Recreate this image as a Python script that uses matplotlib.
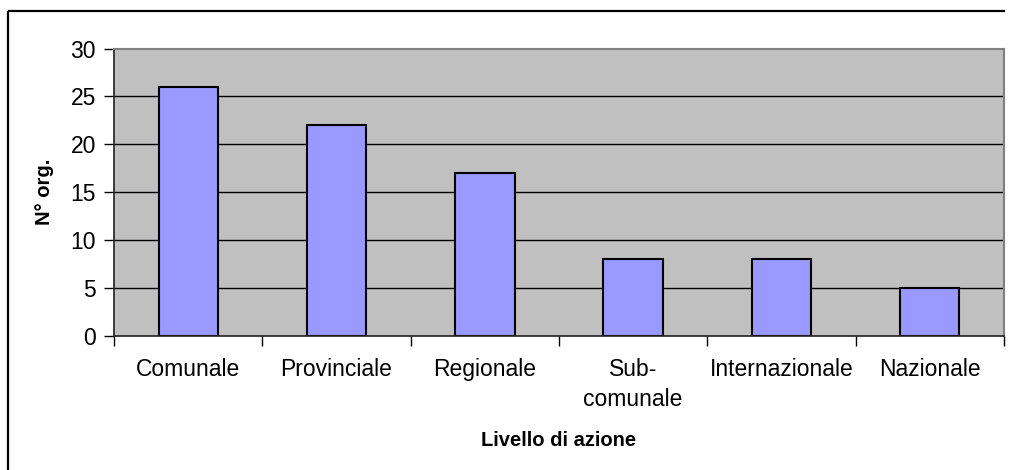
import matplotlib
matplotlib.use("Agg")
import matplotlib.pyplot as plt
from matplotlib.lines import Line2D
import numpy as np

categories = ["Comunale", "Provinciale", "Regionale", "Sub-\ncomunale", "Internazionale", "Nazionale"]
values = [26, 22, 17, 8, 8, 5]
y_ticks = [0, 5, 10, 15, 20, 25, 30]
x_label = "Livello di azione"
y_label = "N° org."

plt.rcParams['font.family'] = ['Liberation Sans', 'DejaVu Sans']

W, H = 1009, 470
fig = plt.figure(figsize=(W / 100, H / 100), dpi=100)

# outer frame (left and top edges; others lie outside the image)
fx, fy = 7.5 / W, (H - 10.5) / H
fig.add_artist(Line2D([fx, fx], [0, fy], transform=fig.transFigure, color='black',
                      linewidth=1.6, solid_capstyle='butt'))
fig.add_artist(Line2D([fx, (W - 4) / W], [fy, fy], transform=fig.transFigure, color='black',
                      linewidth=1.6, solid_capstyle='butt'))

left, right, top, bottom = 114, 1004, 48.5, 336
ax = fig.add_axes([left / W, (H - bottom) / H, (right - left) / W, (bottom - top) / H])
ax.set_facecolor('#C0C0C0')

x = np.arange(len(categories))
ax.set_xlim(-0.5, len(categories) - 0.5)
ax.set_ylim(0, 30)

for yv in y_ticks[1:-1]:
    ax.axhline(yv, color='black', linewidth=1.0, zorder=1)

ax.bar(x, values, width=0.4, color='#9999FF', edgecolor='black', linewidth=1.5, zorder=2)

ax.set_yticks(y_ticks)
ax.set_yticklabels([str(v) for v in y_ticks], fontsize=16.5)
ax.set_xticks(np.arange(len(categories) + 1) - 0.5)
ax.set_xticklabels([])
ax.set_xticks(x, minor=True)
ax.set_xticklabels(categories, minor=True, fontsize=16.5, linespacing=1.4)
ax.tick_params(axis='x', which='minor', length=0, pad=16)
ax.tick_params(axis='x', which='major', length=7, width=1, color='black', direction='out')
ax.tick_params(axis='y', length=7, width=1, color='black', direction='out', pad=6)

for s in ['top', 'right']:
    ax.spines[s].set_color('#808080')
    ax.spines[s].set_linewidth(1.5)
for s in ['left', 'bottom']:
    ax.spines[s].set_color('#202020')
    ax.spines[s].set_linewidth(1.2)

ax.set_xlabel(x_label, fontsize=14.5, fontweight='bold', labelpad=14)
ax.set_ylabel(y_label, fontsize=14.5, fontweight='bold', labelpad=12)

fig.savefig("out.png", dpi=100)
